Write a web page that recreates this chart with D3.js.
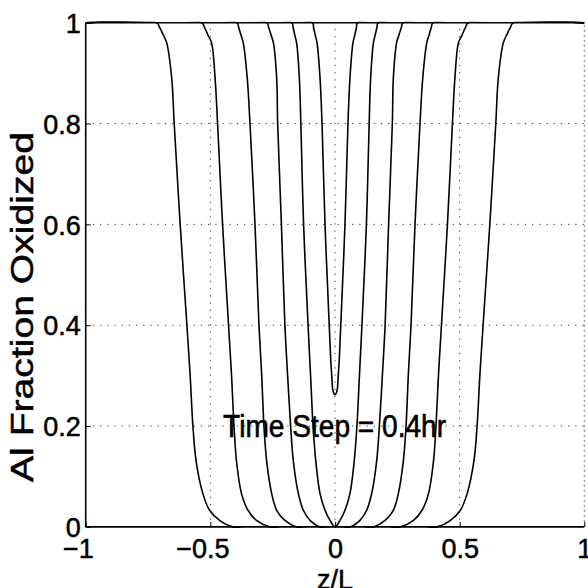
<!DOCTYPE html>
<html>
<head>
<meta charset="utf-8">
<script src="https://cdn.jsdelivr.net/npm/d3@7/dist/d3.min.js"></script>
<style>
html,body{margin:0;padding:0;background:#fff;}
svg{display:block;}
text{font-family:"Liberation Sans",Arial,Helvetica,sans-serif;fill:#000;}
</style>
</head>
<body>
<svg id="chart" width="588" height="588"></svg>
<script>
// ---- data ----
const xTicks = [-1, -0.5, 0, 0.5, 1];
const xTickLabels = ["\u22121", "\u22120.5", "0", "0.5", "1"];
const yTicks = [0, 0.2, 0.4, 0.6, 0.8, 1];
const yTickLabels = ["0", "0.2", "0.4", "0.6", "0.8", "1"];

// shared y levels (fraction oxidized) for the U-shaped fronts
const yLevels = [1, 0.99, 0.975, 0.96, 0.89, 0.8, 0.6, 0.4, 0.3, 0.2, 0.13, 0.066, 0.033, 0.013, 0];
// half-widths |z/L| of each front at those levels (symmetric about z=0)
const front1 = [0.715, 0.703, 0.688, 0.675, 0.655, 0.645, 0.621, 0.594, 0.581, 0.570, 0.557, 0.530, 0.503, 0.463, 0.410];
const front2 = [0.535, 0.523, 0.509, 0.495, 0.481, 0.471, 0.451, 0.427, 0.415, 0.405, 0.395, 0.375, 0.349, 0.315, 0.262];
const front3 = [0.394, 0.386, 0.377, 0.368, 0.352, 0.341, 0.321, 0.305, 0.294, 0.285, 0.274, 0.254, 0.234, 0.201, 0.154];
const front4 = [0.274, 0.266, 0.256, 0.247, 0.234, 0.230, 0.215, 0.201, 0.190, 0.178, 0.167, 0.147, 0.127, 0.100, 0.060];
const front5 = [0.174, 0.168, 0.161, 0.154, 0.143, 0.137, 0.126, 0.108, 0.098, 0.088, 0.077, 0.060, 0.040, 0.020, 0];
// last (V-shaped) front, own y levels
const yLevelsV = [1, 0.99, 0.975, 0.96, 0.89, 0.8, 0.6, 0.41, 0.33, 0.3, 0.27, 0.262];
const front6 = [0.091, 0.086, 0.079, 0.072, 0.060, 0.052, 0.040, 0.024, 0.017, 0.013, 0.008, 0];

const annotation = "Time Step = 0.4hr";
const annotationPos = [-0.449, 0.178];
const xLabel = "z/L";
const yLabel = "Al Fraction Oxidized";

// ---- layout ----
const svg = d3.select("#chart");
const x = d3.scaleLinear().domain([-1, 1]).range([85.7, 584.3]);
const y = d3.scaleLinear().domain([0, 1]).range([526.9, 22.7]);

svg.append("defs").append("clipPath").attr("id", "plotclip").append("rect")
  .attr("x", x(-1)).attr("y", y(1) - 1).attr("width", x(1) - x(-1)).attr("height", y(0) - y(1) + 2);

// grid (dotted)
const grid = svg.append("g").attr("stroke", "#333").attr("stroke-width", 1)
  .attr("stroke-dasharray", "1.2,6").attr("fill", "none");
xTicks.filter(v => v > -1 && v < 1).forEach(v => {
  grid.append("line").attr("x1", x(v)).attr("x2", x(v)).attr("y1", y(0)).attr("y2", y(1));
});
yTicks.filter(v => v > 0 && v < 1).forEach(v => {
  grid.append("line").attr("x1", x(-1)).attr("x2", x(1)).attr("y1", y(v)).attr("y2", y(v));
});
// right border faint dotted
grid.append("line").attr("x1", x(1)).attr("x2", x(1)).attr("y1", y(0)).attr("y2", y(1))
  .attr("stroke-dasharray", "2,3").attr("stroke", "#777");

// curves
function buildPoints(levels, hw) {
  const pts = [[-1, 1]];
  for (let i = 0; i < levels.length; i++) pts.push([-hw[i], levels[i]]);
  for (let i = levels.length - 1; i >= 0; i--) {
    if (hw[i] === 0) continue;
    pts.push([hw[i], levels[i]]);
  }
  pts.push([1, 1]);
  return pts;
}
const fronts = [
  buildPoints(yLevels, front1),
  buildPoints(yLevels, front2),
  buildPoints(yLevels, front3),
  buildPoints(yLevels, front4),
  buildPoints(yLevels, front5),
  buildPoints(yLevelsV, front6)
];
const line = d3.line().x(d => x(d[0])).y(d => y(d[1])).curve(d3.curveCatmullRom.alpha(0.5));
svg.append("g").attr("clip-path", "url(#plotclip)").selectAll("path").data(fronts).join("path")
  .attr("d", line).attr("fill", "none").attr("stroke", "#000")
  .attr("stroke-width", 1.6).attr("stroke-linejoin", "round");

// axes box (left, bottom, top)
const axG = svg.append("g").attr("stroke", "#000").attr("stroke-width", 1.6).attr("fill", "none");
axG.append("line").attr("x1", x(-1)).attr("x2", x(-1)).attr("y1", y(0)).attr("y2", y(1));
axG.append("line").attr("x1", x(-1)).attr("x2", x(1)).attr("y1", y(0)).attr("y2", y(0));
axG.append("line").attr("x1", x(-1)).attr("x2", x(1)).attr("y1", y(1)).attr("y2", y(1));

// axes with inward ticks
const fs = 27;
const xAxis = d3.axisBottom(x).tickValues(xTicks).tickSize(-5).tickSizeOuter(0)
  .tickFormat((d, i) => xTickLabels[i]);
const gx = svg.append("g").attr("transform", `translate(0,${y(0)})`).call(xAxis);
gx.select(".domain").remove();
gx.selectAll(".tick line").attr("stroke", "#000").attr("stroke-width", 1);
gx.selectAll(".tick text").attr("font-size", fs).attr("y", 12).attr("dy", "0.71em")
  .attr("dx", (d, i) => xTickLabels[i].startsWith("\u2212") ? -0.584 * fs / 2 : 0)
  .style("font-family", '"Liberation Sans",Arial,sans-serif').attr("fill", "#000")
  .attr("stroke", "#000").attr("stroke-width", 0.5);

const yAxis = d3.axisLeft(y).tickValues(yTicks).tickSize(-5).tickSizeOuter(0)
  .tickFormat((d, i) => yTickLabels[i]);
const gy = svg.append("g").attr("transform", `translate(${x(-1)},0)`).call(yAxis);
gy.select(".domain").remove();
gy.selectAll(".tick line").attr("stroke", "#000").attr("stroke-width", 1);
gy.selectAll(".tick text").attr("font-size", fs).attr("x", -5).attr("dy", "0.36em")
  .style("font-family", '"Liberation Sans",Arial,sans-serif').attr("fill", "#000")
  .attr("stroke", "#000").attr("stroke-width", 0.5);

// labels
svg.append("text").attr("x", x(0)).attr("y", 589).attr("text-anchor", "middle")
  .attr("font-size", fs).attr("stroke", "#000").attr("stroke-width", 0.5).text(xLabel);
svg.append("text").attr("transform", `translate(33,307) rotate(-90)`)
  .attr("text-anchor", "middle").attr("font-size", 31)
  .attr("textLength", 350).attr("lengthAdjust", "spacingAndGlyphs")
  .attr("stroke", "#000").attr("stroke-width", 0.5).text(yLabel);

// annotation
svg.append("text").attr("x", x(annotationPos[0])).attr("y", y(annotationPos[1]))
  .attr("font-size", 31).attr("textLength", 223).attr("lengthAdjust", "spacingAndGlyphs")
  .attr("stroke", "#000").attr("stroke-width", 0.6).text(annotation);
</script>
</body>
</html>
